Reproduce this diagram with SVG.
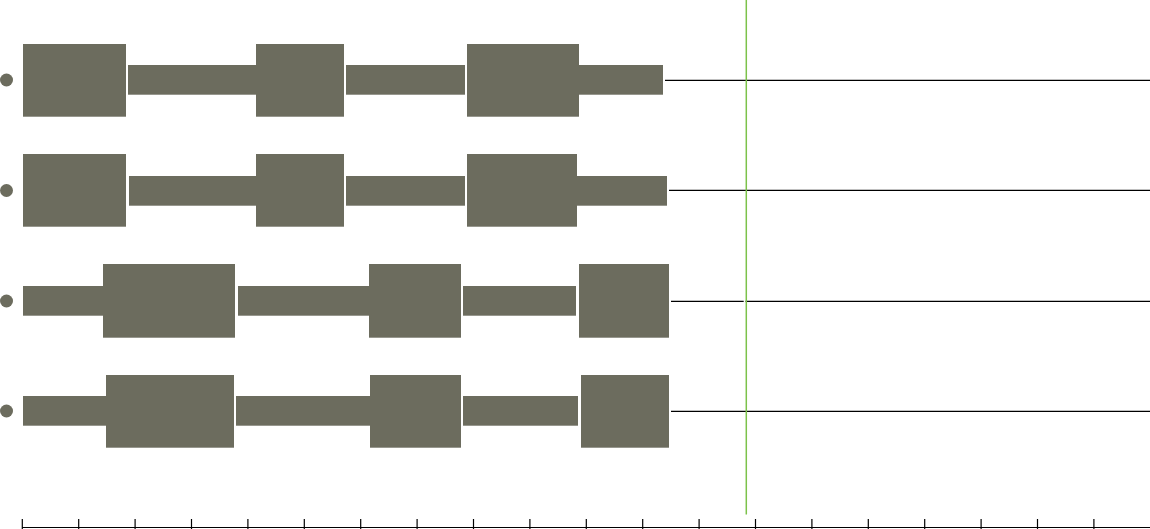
<svg xmlns="http://www.w3.org/2000/svg" width="1150" height="529" viewBox="0 0 1150 529">
<style>
.seg{fill:#6c6c5e}
.dot{fill:#6c6c5e}
.ln{stroke:#000;stroke-width:1.2;fill:none}
.tk{stroke:#000;stroke-width:1.2}
.now{stroke:#7cc24a;stroke-width:1.5}
</style>
<rect width="1150" height="529" fill="#fff"/>
<g id="connectors">
<line class="ln" x1="665" y1="80.3" x2="1150" y2="80.3"/>
<line class="ln" x1="669" y1="190.3" x2="1150" y2="190.3"/>
<line class="ln" x1="671" y1="301.3" x2="743.7" y2="301.3"/>
<line class="ln" x1="745.5" y1="301.3" x2="1150" y2="301.3"/>
<line class="ln" x1="671" y1="411.3" x2="1150" y2="411.3"/>
</g>
<g id="row1">
<circle class="dot" cx="6.5" cy="80" r="6.5"/>
<rect class="seg" x="23" y="44" width="103" height="72.7"/>
<rect class="seg" x="128" y="65" width="128" height="29.7"/>
<rect class="seg" x="256" y="44" width="88" height="72.7"/>
<rect class="seg" x="346" y="65" width="119" height="29.7"/>
<rect class="seg" x="467" y="44" width="112" height="72.7"/>
<rect class="seg" x="579" y="65" width="84" height="29.7"/>
</g>
<g id="row2">
<circle class="dot" cx="6.5" cy="190.5" r="6.5"/>
<rect class="seg" x="23" y="154" width="103" height="72.7"/>
<rect class="seg" x="129" y="176" width="127" height="29.7"/>
<rect class="seg" x="256" y="154" width="88" height="72.7"/>
<rect class="seg" x="346" y="176" width="119" height="29.7"/>
<rect class="seg" x="467" y="154" width="110" height="72.7"/>
<rect class="seg" x="577" y="176" width="90" height="29.7"/>
</g>
<g id="row3">
<circle class="dot" cx="6.5" cy="301" r="6.5"/>
<rect class="seg" x="23" y="286" width="80" height="29.7"/>
<rect class="seg" x="103" y="264" width="132" height="73.7"/>
<rect class="seg" x="238" y="286" width="131" height="29.7"/>
<rect class="seg" x="369" y="264" width="92" height="73.7"/>
<rect class="seg" x="463" y="286" width="113" height="29.7"/>
<rect class="seg" x="579" y="264" width="90" height="73.7"/>
</g>
<g id="row4">
<circle class="dot" cx="6.5" cy="411" r="6.5"/>
<rect class="seg" x="23" y="396" width="83" height="29.7"/>
<rect class="seg" x="106" y="375" width="128" height="72.7"/>
<rect class="seg" x="236" y="396" width="134" height="29.7"/>
<rect class="seg" x="370" y="375" width="91" height="72.7"/>
<rect class="seg" x="463" y="396" width="115" height="29.7"/>
<rect class="seg" x="581" y="375" width="88" height="72.7"/>
</g>
<g id="axis">
<line class="tk" x1="22" y1="527.5" x2="1150" y2="527.5"/>
<g class="tk">
<line x1="22.3" y1="519" x2="22.3" y2="529"/>
<line x1="78.7" y1="519" x2="78.7" y2="529"/>
<line x1="135.1" y1="519" x2="135.1" y2="529"/>
<line x1="191.5" y1="519" x2="191.5" y2="529"/>
<line x1="247.9" y1="519" x2="247.9" y2="529"/>
<line x1="304.3" y1="519" x2="304.3" y2="529"/>
<line x1="360.7" y1="519" x2="360.7" y2="529"/>
<line x1="417.1" y1="519" x2="417.1" y2="529"/>
<line x1="473.5" y1="519" x2="473.5" y2="529"/>
<line x1="529.9" y1="519" x2="529.9" y2="529"/>
<line x1="586.3" y1="519" x2="586.3" y2="529"/>
<line x1="642.7" y1="519" x2="642.7" y2="529"/>
<line x1="699.1" y1="519" x2="699.1" y2="529"/>
<line x1="755.5" y1="519" x2="755.5" y2="529"/>
<line x1="811.9" y1="519" x2="811.9" y2="529"/>
<line x1="868.3" y1="519" x2="868.3" y2="529"/>
<line x1="924.7" y1="519" x2="924.7" y2="529"/>
<line x1="981.1" y1="519" x2="981.1" y2="529"/>
<line x1="1037.5" y1="519" x2="1037.5" y2="529"/>
<line x1="1093.9" y1="519" x2="1093.9" y2="529"/>
</g>
</g>
<line id="now" class="now" x1="746.3" y1="0" x2="746.3" y2="514.6"/>
</svg>
